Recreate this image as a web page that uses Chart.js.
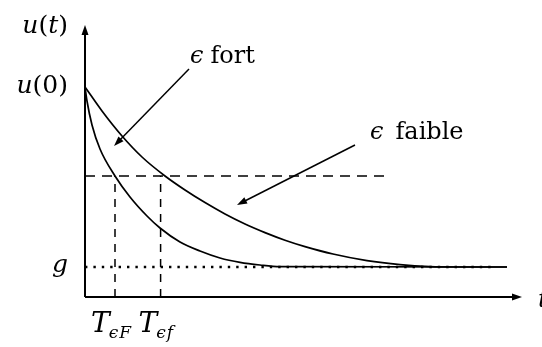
<!DOCTYPE html>
<html>
<head>
<meta charset="utf-8">
<script src="https://cdn.jsdelivr.net/npm/chart.js@4/dist/chart.umd.min.js"></script>
<style>
  html, body { margin: 0; padding: 0; background: #fff; overflow: hidden; }
  #wrap { width: 542px; height: 347px; }
</style>
</head>
<body>
<div id="wrap"><canvas id="c" width="542" height="347"></canvas></div>
<script>
// u(t) relaxing from u(0) to g, for a strong and a weak epsilon
const strongT = [0, 0.1, 0.35, 0.75, 1.5, 2.25, 3.1, 3.75, 4.75, 5.75, 6.75, 7.75, 8.75, 9.75, 21.1];
const strongU = [10.5, 9.8, 8.6, 7.4, 6.05, 5.0, 4.05, 3.45, 2.75, 2.3, 1.95, 1.73, 1.6, 1.52, 1.5];
const weakT = [0, 0.85, 1.85, 2.85, 4.0, 5.0, 6.0, 7.0, 8.0, 9.0, 10.0, 11.0, 12.4, 14.1, 15.75, 17.25, 18.5, 21.1];
const weakU = [10.5, 9.3, 8.05, 7.0, 6.05, 5.35, 4.72, 4.15, 3.65, 3.22, 2.84, 2.52, 2.15, 1.82, 1.62, 1.52, 1.5, 1.5];

// reference levels and times
const u0 = 10.5;         // u(0)
const g = 1.5;           // asymptote
const uLevel = 6.05;     // threshold level
const tStrong = 1.5;     // T_eps_F
const tWeak = 3.78;      // T_eps_f
const gEnd = 20.4;       // end of the dotted g line
const levelEnd = 15.1;   // end of the dashed threshold line
const tMax = 21.85;
const uMax = 13.6;

const pts = (ts, us) => ts.map((t, i) => ({ x: t, y: us[i] }));

const serif = '"DejaVu Serif", "Liberation Serif", serif';
const IT = s => 'italic ' + s + 'px ' + serif;
const RM = s => s + 'px ' + serif;

function runsWidth(ctx, runs) {
  let w = 0;
  for (const r of runs) { ctx.font = r[1]; w += ctx.measureText(r[0]).width + (r[3] || 0); }
  return w;
}
function drawRuns(ctx, x, y, runs, align) {
  let cx = align === 'right' ? x - runsWidth(ctx, runs) : x;
  for (const r of runs) {
    ctx.font = r[1];
    ctx.fillText(r[0], cx, y + (r[2] || 0));
    cx += ctx.measureText(r[0]).width + (r[3] || 0);
  }
}
function arrowHead(ctx, x1, y1, x2, y2, len, half) {
  const a = Math.atan2(y2 - y1, x2 - x1);
  ctx.beginPath();
  ctx.moveTo(x2, y2);
  ctx.lineTo(x2 - len * Math.cos(a) + half * Math.sin(a), y2 - len * Math.sin(a) - half * Math.cos(a));
  ctx.lineTo(x2 - len * Math.cos(a) - half * Math.sin(a), y2 - len * Math.sin(a) + half * Math.cos(a));
  ctx.closePath();
  ctx.fill();
}
function arrow(ctx, x1, y1, x2, y2, len, half) {
  const a = Math.atan2(y2 - y1, x2 - x1);
  ctx.beginPath();
  ctx.moveTo(x1, y1);
  ctx.lineTo(x2 - len * 0.6 * Math.cos(a), y2 - len * 0.6 * Math.sin(a));
  ctx.stroke();
  arrowHead(ctx, x1, y1, x2, y2, len, half);
}

// axes, pointer arrows and math labels
const decor = {
  id: 'decor',
  afterDatasetsDraw(chart) {
    const { ctx, scales: { x, y } } = chart;
    const px = v => x.getPixelForValue(v);
    const py = v => y.getPixelForValue(v);
    ctx.save();
    ctx.strokeStyle = '#000';
    ctx.fillStyle = '#000';
    ctx.lineCap = 'butt';

    // axes with arrow tips
    ctx.lineWidth = 2;
    arrow(ctx, px(0), py(0), px(0), py(uMax), 10, 3.5);
    arrow(ctx, px(0), py(0), px(tMax), py(0), 10, 3.5);

    // pointers to the curves
    ctx.lineWidth = 1.5;
    arrow(ctx, px(5.2), py(11.4), px(1.45), py(7.55), 10, 3.5);
    arrow(ctx, px(13.5), py(7.6), px(7.6), py(4.6), 10, 3.5);

    ctx.textBaseline = 'alphabetic';
    const lx = px(0) - 17;
    drawRuns(ctx, lx, py(uMax) + 8, [['u', IT(25)], ['(', RM(25)], ['t', IT(25)], [')', RM(25)]], 'right');
    drawRuns(ctx, lx, py(u0) + 6, [['u', IT(25)], ['(0)', RM(25)]], 'right');
    drawRuns(ctx, lx, py(g) + 5, [['g', IT(25)]], 'right');

    drawRuns(ctx, px(5.25), py(11.7), [['\u03F5', IT(24), 0, 7], ['fort', RM(24)]]);
    drawRuns(ctx, px(14.25), py(7.9), [['\u03F5', IT(24), 0, 12], ['faible', RM(24)]]);

    const by = py(0) + 35;
    drawRuns(ctx, px(tStrong) - 24, by, [['T', IT(28), 0, -1], ['\u03F5', IT(17), 6, 1], ['F', IT(17), 6]]);
    drawRuns(ctx, px(tWeak) - 22, by, [['T', IT(28), 0, -1], ['\u03F5', IT(17), 6, 1], ['f', IT(17), 6]]);

    drawRuns(ctx, px(tMax) + 16, py(0) + 10, [['t', IT(25)]]);
    ctx.restore();
  }
};

const base = { borderColor: '#000', pointRadius: 0, fill: false, clip: false };

new Chart(document.getElementById('c'), {
  type: 'line',
  data: {
    datasets: [
      Object.assign({ data: pts(strongT, strongU), borderWidth: 1.7, cubicInterpolationMode: 'monotone' }, base),
      Object.assign({ data: pts(weakT, weakU), borderWidth: 1.7, cubicInterpolationMode: 'monotone' }, base),
      Object.assign({ data: [{ x: 0, y: g }, { x: gEnd, y: g }], borderWidth: 2.6, borderDash: [2.4, 6] }, base),
      Object.assign({ data: [{ x: 0, y: uLevel }, { x: levelEnd, y: uLevel }], borderWidth: 1.5, borderDash: [10, 7] }, base),
      Object.assign({ data: [{ x: tStrong, y: 0 }, { x: tStrong, y: uLevel }], borderWidth: 1.5, borderDash: [8, 7] }, base),
      Object.assign({ data: [{ x: tWeak, y: 0 }, { x: tWeak, y: uLevel }], borderWidth: 1.5, borderDash: [8, 7] }, base)
    ]
  },
  options: {
    responsive: false,
    animation: false,
    events: [],
    layout: { padding: { left: 85, right: 20, top: 25, bottom: 50 } },
    plugins: { legend: { display: false }, tooltip: { enabled: false } },
    scales: {
      x: { type: 'linear', min: 0, max: tMax, display: false },
      y: { type: 'linear', min: 0, max: uMax, display: false }
    }
  },
  plugins: [decor]
});
</script>
</body>
</html>
